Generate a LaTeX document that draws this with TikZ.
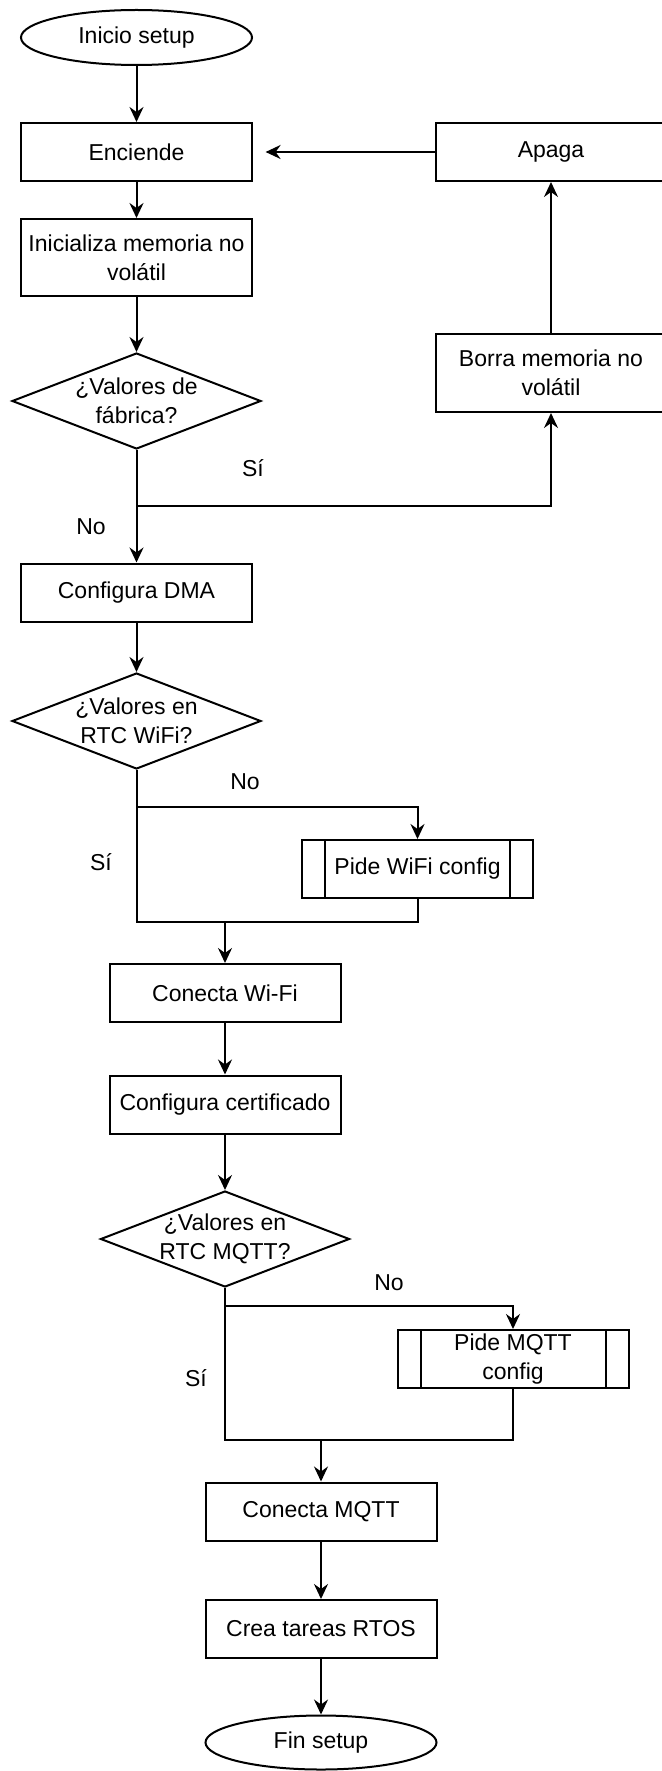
\documentclass[tikz,border=0pt]{standalone}
\usepackage{fontspec}
\setmainfont{Liberation Sans}
\usetikzlibrary{shapes.geometric,arrows.meta,calc}

\begin{document}
\begin{tikzpicture}[x=0.5pt,y=-0.5pt,
  every node/.style={font=\fontsize{11.5}{14.5}\selectfont, text=black},
  box/.style={draw, line width=1pt, minimum width=115.5pt, minimum height=29pt, inner sep=0pt, align=center},
  term/.style={ellipse, draw, line width=1pt, minimum width=115.5pt, minimum height=27.5pt, inner sep=0pt},
  dia/.style={diamond, draw, line width=1pt, minimum width=124.5pt, minimum height=48pt, inner sep=0pt, aspect=2.6},
  diatext/.style={align=center, inner sep=0pt},
  sub/.style={box, path picture={
      \draw[line width=1pt] ([xshift=11.5pt]path picture bounding box.north west) -- ([xshift=11.5pt]path picture bounding box.south west);
      \draw[line width=1pt] ([xshift=-11.5pt]path picture bounding box.north east) -- ([xshift=-11.5pt]path picture bounding box.south east);}},
  link/.style={line width=1pt},
  arr/.style={link, -{Stealth[length=7.5pt,width=7pt,inset=2.5pt]}},
  lbl/.style={inner sep=0pt}
]
\clip (0,0) rectangle (662,1771);
\fill[white] (0,0) rectangle (662,1771);

% nodes of the setup flow
\node[term] (inicio) at (136.5,37.5) {Inicio setup};
\node[box] (enciende) at (136.5,152) {Enciende};
\node[box] (apaga) at (551,152) {Apaga};
\node[box, minimum height=38.5pt] (inicializa) at (136.5,257.5) {Inicializa memoria no\\volátil};
\node[dia] (d1) at (136.5,401) {};
\node[diatext] (d1t) at (d1) {¿Valores de\\fábrica?};
\node[box, minimum height=39pt] (borra) at (551,373) {Borra memoria no\\volátil};
\node[box] (dma) at (136.5,592.5) {Configura DMA};
\node[dia] (d2) at (136.5,721) {};
\node[diatext] (d2t) at (d2) {¿Valores en\\RTC WiFi?};
\node[sub] (pidewifi) at (417.5,869) {Pide WiFi config};
\node[box] (conwifi) at (225,993) {Conecta Wi-Fi};
\node[box] (cert) at (225,1104.5) {Configura certificado};
\node[dia] (d3) at (225,1239) {};
\node[diatext] (d3t) at (d3) {¿Valores en\\RTC MQTT?};
\node[sub] (pidemqtt) at (513,1359) {Pide MQTT\\config};
\node[box] (conmqtt) at (321,1511.5) {Conecta MQTT};
\node[box] (crea) at (321,1629) {Crea tareas RTOS};
\node[term, minimum height=27pt] (fin) at (321,1742.5) {Fin setup};

% branch and merge points
\coordinate (j1) at (136.5,506);
\coordinate (j2) at (136.5,807);
\coordinate (m2) at (225,922);
\coordinate (j3) at (225,1306);
\coordinate (m3) at (321,1440);

% branch labels
\node[lbl] (s1) at (253,468) {Sí};
\node[lbl] (n1) at (91,527) {No};
\node[lbl] (n2) at (245,782) {No};
\node[lbl] (s2) at (101,862) {Sí};
\node[lbl] (n3) at (389,1283) {No};
\node[lbl] (s3) at (196,1378) {Sí};

% connectors
\draw[arr] (inicio) -- (enciende);
\draw[arr] (enciende) -- (inicializa);
\draw[arr] (inicializa) -- (d1);
\draw[arr] (d1) -- (dma);
\draw[arr] (j1) -| (borra);
\draw[arr] (borra) -- (apaga);
\draw[arr, shorten >=6.3pt] (apaga) -- (enciende);
\draw[arr] (dma) -- (d2);
\draw[arr] (j2) -| (pidewifi);
\draw[link] (d2.south) |- (pidewifi.south |- m2) -- (pidewifi.south);
\draw[arr] (m2) -- (conwifi);
\draw[arr] (conwifi) -- (cert);
\draw[arr] (cert) -- (d3);
\draw[arr] (j3) -| (pidemqtt);
\draw[link] (d3.south) |- (pidemqtt.south |- m3) -- (pidemqtt.south);
\draw[arr] (m3) -- (conmqtt);
\draw[arr] (conmqtt) -- (crea);
\draw[arr] (crea) -- (fin);
\end{tikzpicture}
\end{document}
